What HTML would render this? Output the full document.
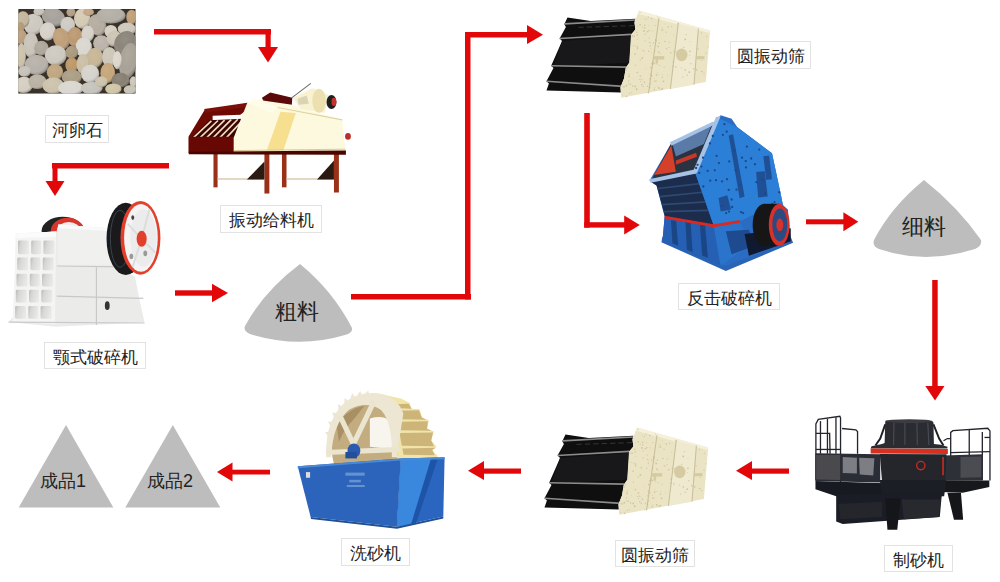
<!DOCTYPE html>
<html><head><meta charset="utf-8">
<style>
html,body{margin:0;padding:0;background:#fff;}
body{width:1000px;height:582px;position:relative;overflow:hidden;font-family:"Liberation Sans",sans-serif;}
.lb{position:absolute;box-sizing:border-box;border:1px solid #e2e2e2;color:#222;font-size:17.3px;line-height:25px;padding-top:2px;text-align:center;white-space:nowrap;}
.pt{position:absolute;color:#222;font-size:19px;line-height:20px;white-space:nowrap;}
svg{position:absolute;left:0;top:0;}
</style></head><body>
<svg width="1000" height="582" viewBox="0 0 1000 582">
<g fill="#e2080a">
<rect x="154" y="29" width="117" height="5.5"/><rect x="265.5" y="29" width="5.2" height="19"/><polygon points="258,47 278,47 268,62.5"/>
<rect x="52" y="163" width="117" height="5.5"/><rect x="52.5" y="163" width="5" height="20"/><polygon points="45.5,181 64.5,181 55,196"/>
<rect x="175" y="290.3" width="40" height="5.4"/><polygon points="212,283.7 212,302.2 228,293"/>
<rect x="351" y="294" width="120" height="5.5"/><rect x="465" y="32" width="5.5" height="267.5"/><rect x="465" y="32" width="64" height="5.5"/><polygon points="527,25 527,44 543,34.8"/>
<rect x="584.2" y="113" width="5.6" height="114.6"/><rect x="584.2" y="222.2" width="42" height="5.4"/><polygon points="624.2,215.6 624.2,234.4 639.8,225"/>
<rect x="806" y="219.3" width="39" height="5"/><polygon points="843.4,212.3 843.4,231.2 858.3,221.8"/>
<rect x="932.2" y="280" width="5.5" height="108"/><polygon points="925.3,386 944.5,386 935,400.5"/>
<rect x="750" y="468.5" width="39" height="5.2"/><polygon points="752,461 752,480 736,470.8"/>
<rect x="481" y="468.5" width="40" height="5.2"/><polygon points="484,461 484,480 468,470.8"/>
<rect x="231" y="469.7" width="39" height="4.8"/><polygon points="232.5,462.4 232.5,481.6 217,472"/>
</g>
<g fill="#bdbdbd">
<polygon points="66,425 18.7,507.5 113.3,507.5"/>
<polygon points="172.8,425 125.3,507.5 220.3,507.5"/>
<path d="M300,264 Q333,291 352,328 Q353,333 345,335 Q298,349 250,334 Q243,331 245,326 Q264,291 300,264Z"/>
<path d="M924,180 Q958,207 981,240 Q982,246 975,249 Q925,265 879,249 Q872,246 874,240 Q891,207 924,180Z"/>
</g>

<g transform="translate(15,5) scale(0.15985)"><defs><radialGradient id="pg" cx="0.4" cy="0.35" r="0.7"><stop offset="0" stop-color="#fff" stop-opacity="0.08"/><stop offset="0.6" stop-color="#fff" stop-opacity="0"/><stop offset="1" stop-color="#000" stop-opacity="0.38"/></radialGradient></defs><clipPath id="pc"><rect x="20" y="25" width="735" height="530"/></clipPath><g clip-path="url(#pc)"><rect x="20" y="25" width="735" height="530" fill="#3a3128"/>
<ellipse cx="115" cy="120" rx="63" ry="66" fill="#cdc8bf"/>
<ellipse cx="115" cy="120" rx="63" ry="66" fill="url(#pg)"/>
<ellipse cx="240" cy="75" rx="74" ry="57" fill="#a6a19b" transform="rotate(20 240 75)"/>
<ellipse cx="240" cy="75" rx="74" ry="57" fill="url(#pg)" transform="rotate(20 240 75)"/>
<ellipse cx="205" cy="165" rx="51" ry="57" fill="#d6d1c8"/>
<ellipse cx="205" cy="165" rx="51" ry="57" fill="url(#pg)"/>
<ellipse cx="330" cy="125" rx="46" ry="51" fill="#cecbc5"/>
<ellipse cx="330" cy="125" rx="46" ry="51" fill="url(#pg)"/>
<ellipse cx="420" cy="85" rx="51" ry="63" fill="#d5cab4"/>
<ellipse cx="420" cy="85" rx="51" ry="63" fill="url(#pg)"/>
<ellipse cx="515" cy="125" rx="55" ry="68" fill="#b5ac9f" transform="rotate(-20 515 125)"/>
<ellipse cx="515" cy="125" rx="55" ry="68" fill="url(#pg)" transform="rotate(-20 515 125)"/>
<ellipse cx="600" cy="65" rx="91" ry="51" fill="#b3afa6"/>
<ellipse cx="600" cy="65" rx="91" ry="51" fill="url(#pg)"/>
<ellipse cx="730" cy="75" rx="34" ry="46" fill="#c09f79"/>
<ellipse cx="730" cy="75" rx="34" ry="46" fill="url(#pg)"/>
<ellipse cx="700" cy="150" rx="57" ry="40" fill="#cdc7bc"/>
<ellipse cx="700" cy="150" rx="57" ry="40" fill="url(#pg)"/>
<ellipse cx="600" cy="165" rx="40" ry="40" fill="#d5cfc2"/>
<ellipse cx="600" cy="165" rx="40" ry="40" fill="url(#pg)"/>
<ellipse cx="50" cy="90" rx="40" ry="51" fill="#c3b69d"/>
<ellipse cx="50" cy="90" rx="40" ry="51" fill="url(#pg)"/>
<ellipse cx="35" cy="140" rx="23" ry="34" fill="#b19977"/>
<ellipse cx="35" cy="140" rx="23" ry="34" fill="url(#pg)"/>
<ellipse cx="40" cy="200" rx="34" ry="46" fill="#b99f7f"/>
<ellipse cx="40" cy="200" rx="34" ry="46" fill="url(#pg)"/>
<ellipse cx="100" cy="250" rx="46" ry="80" fill="#c9c4ba"/>
<ellipse cx="100" cy="250" rx="46" ry="80" fill="url(#pg)"/>
<ellipse cx="290" cy="210" rx="51" ry="68" fill="#bf9f79" transform="rotate(-20 290 210)"/>
<ellipse cx="290" cy="210" rx="51" ry="68" fill="url(#pg)" transform="rotate(-20 290 210)"/>
<ellipse cx="375" cy="200" rx="46" ry="63" fill="#bb9971"/>
<ellipse cx="375" cy="200" rx="46" ry="63" fill="url(#pg)"/>
<ellipse cx="455" cy="180" rx="40" ry="51" fill="#d6d1c9"/>
<ellipse cx="455" cy="180" rx="40" ry="51" fill="url(#pg)"/>
<ellipse cx="430" cy="265" rx="51" ry="63" fill="#dad7d1"/>
<ellipse cx="430" cy="265" rx="51" ry="63" fill="url(#pg)"/>
<ellipse cx="540" cy="240" rx="51" ry="51" fill="#bbb4aa"/>
<ellipse cx="540" cy="240" rx="51" ry="51" fill="url(#pg)"/>
<ellipse cx="620" cy="210" rx="46" ry="51" fill="#ccc4b3" transform="rotate(30 620 210)"/>
<ellipse cx="620" cy="210" rx="46" ry="51" fill="url(#pg)" transform="rotate(30 620 210)"/>
<ellipse cx="690" cy="240" rx="68" ry="80" fill="#8a847a" transform="rotate(30 690 240)"/>
<ellipse cx="690" cy="240" rx="68" ry="80" fill="url(#pg)" transform="rotate(30 690 240)"/>
<ellipse cx="165" cy="270" rx="46" ry="46" fill="#ada79a"/>
<ellipse cx="165" cy="270" rx="46" ry="46" fill="url(#pg)"/>
<ellipse cx="255" cy="315" rx="68" ry="63" fill="#cec9c0"/>
<ellipse cx="255" cy="315" rx="68" ry="63" fill="url(#pg)"/>
<ellipse cx="355" cy="295" rx="40" ry="40" fill="#aa997e"/>
<ellipse cx="355" cy="295" rx="40" ry="40" fill="url(#pg)"/>
<ellipse cx="500" cy="330" rx="51" ry="63" fill="#c7b696"/>
<ellipse cx="500" cy="330" rx="51" ry="63" fill="url(#pg)"/>
<ellipse cx="590" cy="325" rx="46" ry="63" fill="#cdc7b8"/>
<ellipse cx="590" cy="325" rx="46" ry="63" fill="url(#pg)"/>
<ellipse cx="710" cy="350" rx="57" ry="114" fill="#a8a196" transform="rotate(10 710 350)"/>
<ellipse cx="710" cy="350" rx="57" ry="114" fill="url(#pg)" transform="rotate(10 710 350)"/>
<ellipse cx="40" cy="320" rx="28" ry="80" fill="#ccc2ac"/>
<ellipse cx="40" cy="320" rx="28" ry="80" fill="url(#pg)"/>
<ellipse cx="135" cy="375" rx="74" ry="63" fill="#b6b1a9"/>
<ellipse cx="135" cy="375" rx="74" ry="63" fill="url(#pg)"/>
<ellipse cx="250" cy="420" rx="51" ry="51" fill="#c0a680"/>
<ellipse cx="250" cy="420" rx="51" ry="51" fill="url(#pg)"/>
<ellipse cx="355" cy="375" rx="40" ry="46" fill="#bd9768"/>
<ellipse cx="355" cy="375" rx="40" ry="46" fill="url(#pg)"/>
<ellipse cx="425" cy="370" rx="40" ry="63" fill="#cabea5"/>
<ellipse cx="425" cy="370" rx="40" ry="63" fill="url(#pg)"/>
<ellipse cx="355" cy="450" rx="63" ry="46" fill="#ab9e85"/>
<ellipse cx="355" cy="450" rx="63" ry="46" fill="url(#pg)"/>
<ellipse cx="470" cy="430" rx="57" ry="57" fill="#d6d3cd"/>
<ellipse cx="470" cy="430" rx="57" ry="57" fill="url(#pg)"/>
<ellipse cx="580" cy="425" rx="46" ry="63" fill="#c6a67a"/>
<ellipse cx="580" cy="425" rx="46" ry="63" fill="url(#pg)"/>
<ellipse cx="660" cy="470" rx="57" ry="46" fill="#877f72"/>
<ellipse cx="660" cy="470" rx="57" ry="46" fill="url(#pg)"/>
<ellipse cx="740" cy="480" rx="23" ry="34" fill="#cdc7ba"/>
<ellipse cx="740" cy="480" rx="23" ry="34" fill="url(#pg)"/>
<ellipse cx="60" cy="415" rx="40" ry="34" fill="#c6c1b9"/>
<ellipse cx="60" cy="415" rx="40" ry="34" fill="url(#pg)"/>
<ellipse cx="55" cy="500" rx="57" ry="51" fill="#d5cfc2"/>
<ellipse cx="55" cy="500" rx="57" ry="51" fill="url(#pg)"/>
<ellipse cx="140" cy="480" rx="57" ry="46" fill="#b9b1a3"/>
<ellipse cx="140" cy="480" rx="57" ry="46" fill="url(#pg)"/>
<ellipse cx="240" cy="505" rx="68" ry="51" fill="#ccc2ac"/>
<ellipse cx="240" cy="505" rx="68" ry="51" fill="url(#pg)"/>
<ellipse cx="350" cy="520" rx="80" ry="46" fill="#dad7d1"/>
<ellipse cx="350" cy="520" rx="80" ry="46" fill="url(#pg)"/>
<ellipse cx="480" cy="520" rx="68" ry="40" fill="#c6c3bd"/>
<ellipse cx="480" cy="520" rx="68" ry="40" fill="url(#pg)"/>
<ellipse cx="540" cy="480" rx="40" ry="34" fill="#ccc2ac"/>
<ellipse cx="540" cy="480" rx="40" ry="34" fill="url(#pg)"/>
<ellipse cx="615" cy="525" rx="51" ry="34" fill="#d0c6a6"/>
<ellipse cx="615" cy="525" rx="51" ry="34" fill="url(#pg)"/>
<ellipse cx="720" cy="530" rx="40" ry="28" fill="#c9c3b6"/>
<ellipse cx="720" cy="530" rx="40" ry="28" fill="url(#pg)"/>
<ellipse cx="150" cy="40" rx="34" ry="28" fill="#c8c3ba"/>
<ellipse cx="150" cy="40" rx="34" ry="28" fill="url(#pg)"/>
<ellipse cx="460" cy="45" rx="34" ry="23" fill="#c1a787"/>
<ellipse cx="460" cy="45" rx="34" ry="23" fill="url(#pg)"/>
<ellipse cx="350" cy="45" rx="28" ry="28" fill="#b29f85"/>
<ellipse cx="350" cy="45" rx="28" ry="28" fill="url(#pg)"/>
<ellipse cx="640" cy="345" rx="28" ry="57" fill="#dbd7cd"/>
<ellipse cx="640" cy="345" rx="28" ry="57" fill="url(#pg)"/>
</g></g>
<g transform="translate(185,78) scale(0.2063)">
<!-- legs -->
<g fill="#9a3018">
<rect x="138" y="362" width="20" height="168"/>
<rect x="385" y="362" width="24" height="198"/>
<rect x="470" y="362" width="22" height="168"/>
<rect x="722" y="362" width="24" height="193"/>
</g>
<g fill="#d8c8b0"><rect x="158" y="486" width="227" height="7"/><rect x="492" y="486" width="230" height="7"/></g>
<polygon points="300,492 385,405 385,492" fill="#2a1a12"/>
<polygon points="640,492 722,400 722,492" fill="#2a1a12"/>
<!-- maroon back top -->
<polygon points="373,96 413,70 520,96 517,140 380,112" fill="#5a0a08"/>
<!-- left hopper maroon -->
<polygon points="18,282 95,155 303,122 305,150 240,200 238,362 18,362" fill="#6e0a04"/>
<polygon points="93,150 303,120 303,140 100,168" fill="#7a1008"/>
<polygon points="134,183 274,178 250,205 134,205" fill="#ffffff"/>
<polygon points="28,290 118,205 280,198 240,290" fill="#3a0402"/>
<g stroke="#f0dcc0" stroke-width="8">
<line x1="40" y1="290" x2="128" y2="208"/>
<line x1="72" y1="290" x2="160" y2="206"/>
<line x1="104" y1="290" x2="192" y2="204"/>
<line x1="136" y1="290" x2="224" y2="202"/>
<line x1="168" y1="290" x2="256" y2="200"/>
<line x1="200" y1="290" x2="275" y2="210"/>
</g>
<polygon points="18,285 240,285 238,362 18,362" fill="#680804"/>
<!-- beige body -->
<polygon points="236,362 236,290 300,125 330,102 520,130 560,145 763,203 777,350 780,360" fill="#fdf9de"/>
<polygon points="463,163 537,170 477,350 397,350" fill="#f6df8e"/>
<polygon points="300,125 330,102 450,143 420,170 330,130" fill="#fffcea"/>
<line x1="450" y1="143" x2="763" y2="203" stroke="#e0d4a0" stroke-width="5"/>
<line x1="236" y1="352" x2="778" y2="345" stroke="#d0c088" stroke-width="4"/>
<!-- motor housing -->
<polygon points="523,96 617,50 697,83 677,170 560,150" fill="#f8f2d2"/>
<line x1="517" y1="96" x2="610" y2="26" stroke="#6a6a6a" stroke-width="5"/>
<polygon points="545,100 590,85 600,125 550,130" fill="#c8c0a0" opacity="0.6"/>
<ellipse cx="650" cy="110" rx="33" ry="58" fill="#ece0b0"/>
<ellipse cx="710" cy="116" rx="24" ry="34" fill="#1e1e1e"/>
<ellipse cx="722" cy="116" rx="12" ry="20" fill="#c8302a"/>
<ellipse cx="790" cy="283" rx="14" ry="16" fill="#b83028"/>
<!-- bottom beam -->
<polygon points="18,358 780,352 780,372 18,370" fill="#4a0400"/>
</g>

<g transform="translate(5,195) scale(0.2406)">
<!-- back flywheel -->
<ellipse cx="240" cy="150" rx="88" ry="60" fill="#222"/>
<ellipse cx="260" cy="150" rx="70" ry="55" fill="#d8362a"/>
<ellipse cx="265" cy="152" rx="50" ry="40" fill="#eee"/>
<!-- body -->
<polygon points="45,160 215,152 222,123 430,138 480,300 540,340 560,440 580,530 210,548 15,528 40,500" fill="#ebebea"/>
<polygon points="222,123 430,138 440,290 218,290" fill="#f0f0ef"/><polygon points="222,123 430,138 432,150 220,138" fill="#fafafa"/>
<!-- left grid face -->
<defs><linearGradient id="jc" x1="0" y1="0" x2="1" y2="0.3"><stop offset="0" stop-color="#b8bbb6"/><stop offset="0.35" stop-color="#d6d8d3"/><stop offset="1" stop-color="#e8e9e6"/></linearGradient></defs><polygon points="47,160 212,152 208,536 31,528" fill="#f4f4f3"/><polygon points="47,160 212,152 212,172 47,180" fill="#fbfbfb"/>
<rect x="54" y="189" width="45" height="57" rx="6" fill="url(#jc)"/>
<rect x="109" y="189" width="41" height="57" rx="6" fill="url(#jc)"/>
<rect x="160" y="189" width="45" height="57" rx="6" fill="url(#jc)"/>
<rect x="51" y="260" width="45" height="53" rx="6" fill="url(#jc)"/>
<rect x="106" y="260" width="41" height="53" rx="6" fill="url(#jc)"/>
<rect x="157" y="260" width="45" height="53" rx="6" fill="url(#jc)"/>
<rect x="48" y="327" width="45" height="53" rx="6" fill="url(#jc)"/>
<rect x="103" y="327" width="41" height="53" rx="6" fill="url(#jc)"/>
<rect x="154" y="327" width="45" height="53" rx="6" fill="url(#jc)"/>
<rect x="45" y="394" width="45" height="53" rx="6" fill="url(#jc)"/>
<rect x="100" y="394" width="41" height="53" rx="6" fill="url(#jc)"/>
<rect x="151" y="394" width="45" height="53" rx="6" fill="url(#jc)"/>
<rect x="42" y="461" width="45" height="53" rx="6" fill="url(#jc)"/>
<rect x="97" y="461" width="41" height="53" rx="6" fill="url(#jc)"/>
<rect x="148" y="461" width="45" height="53" rx="6" fill="url(#jc)"/>
<g stroke="#c8c8c8" stroke-width="5" fill="none">
<line x1="215" y1="295" x2="560" y2="300"/>
<line x1="215" y1="420" x2="575" y2="430"/>
<line x1="380" y1="300" x2="380" y2="540"/>
<line x1="15" y1="528" x2="580" y2="532"/>
</g>
<ellipse cx="425" cy="460" rx="10" ry="18" fill="#333"/>
<!-- front flywheel -->
<ellipse cx="502" cy="182" rx="80" ry="150" fill="#1a1a1c"/>
<ellipse cx="478" cy="182" rx="40" ry="118" fill="none" stroke="#3a4450" stroke-width="4"/>
<ellipse cx="563" cy="178" rx="83" ry="153" fill="#e2402c"/>
<ellipse cx="565" cy="178" rx="70" ry="141" fill="#f4f4f4"/>
<ellipse cx="575" cy="178" rx="55" ry="120" fill="#ececec"/>
<g stroke="#dcdcdc" stroke-width="8">
<line x1="568" y1="182" x2="600" y2="60"/><line x1="568" y1="182" x2="530" y2="300"/>
<line x1="568" y1="182" x2="625" y2="240"/><line x1="568" y1="182" x2="510" y2="120"/>
</g>
<ellipse cx="568" cy="182" rx="21" ry="33" fill="#e2402c"/>
<ellipse cx="531" cy="94" rx="6" ry="10" fill="#444"/>
<ellipse cx="525" cy="255" rx="8" ry="12" fill="#9a9a9a"/>
<ellipse cx="583" cy="243" rx="8" ry="12" fill="#9a9a9a"/>
</g>

<g transform="translate(540,5) scale(0.175)"><g>
<polygon points="157,72 290,92 545,78 540,100 545,140 520,170 510,330 490,360 480,420 460,470 462,500 37,488 51,449 37,436 77,360 64,347 126,205 112,191 148,126 139,110" fill="#0f0f10"/>
<polygon points="126,205 522,175 510,330 77,350" fill="#18181a"/>
<g stroke="#8c8c8c" stroke-width="9">
<line x1="139" y1="108" x2="543" y2="86"/>
<line x1="112" y1="191" x2="522" y2="168"/>
<line x1="64" y1="347" x2="497" y2="355"/>
<line x1="37" y1="436" x2="475" y2="465"/>
</g>
<g stroke="#3a3a3a" stroke-width="5" stroke-dasharray="30 18"><line x1="220" y1="128" x2="540" y2="118"/></g>
<polygon points="565,32 972,145 948,440 465,530 462,500 460,470 480,420 490,360 510,330 520,170 545,140 540,100" fill="#ebe4c4"/>
<polygon points="565,32 972,145 968,160 560,50" fill="#f5f0da"/>
<polygon points="790,105 905,135 880,455 745,480" fill="#efe9cf"/>
<g stroke="#c9bf98" stroke-width="6">
<line x1="680" y1="75" x2="620" y2="505"/>
<line x1="790" y1="105" x2="745" y2="480"/>
<line x1="905" y1="135" x2="880" y2="455"/>
</g>
<g fill="#c2b68e" opacity="0.7"><circle cx="583" cy="305" r="3.4"/><circle cx="594" cy="148" r="5.0"/><circle cx="789" cy="106" r="4.7"/><circle cx="729" cy="404" r="2.7"/><circle cx="476" cy="467" r="3.7"/><circle cx="663" cy="434" r="3.6"/><circle cx="685" cy="346" r="3.3"/><circle cx="761" cy="325" r="4.2"/><circle cx="544" cy="465" r="4.9"/><circle cx="926" cy="317" r="3.0"/><circle cx="493" cy="461" r="5.0"/><circle cx="506" cy="434" r="3.5"/><circle cx="538" cy="178" r="4.4"/><circle cx="830" cy="197" r="5.0"/><circle cx="619" cy="69" r="4.0"/><circle cx="670" cy="338" r="2.9"/><circle cx="482" cy="468" r="3.3"/><circle cx="655" cy="263" r="3.8"/><circle cx="721" cy="248" r="3.1"/><circle cx="674" cy="323" r="2.6"/><circle cx="783" cy="265" r="3.4"/><circle cx="491" cy="371" r="4.9"/><circle cx="589" cy="260" r="4.0"/><circle cx="625" cy="214" r="3.3"/><circle cx="650" cy="331" r="3.3"/><circle cx="654" cy="420" r="2.6"/><circle cx="575" cy="436" r="3.1"/><circle cx="557" cy="250" r="4.2"/><circle cx="632" cy="451" r="3.6"/><circle cx="633" cy="358" r="4.7"/><circle cx="692" cy="144" r="2.8"/><circle cx="733" cy="126" r="4.6"/><circle cx="555" cy="171" r="4.5"/><circle cx="527" cy="177" r="4.5"/><circle cx="600" cy="205" r="3.5"/><circle cx="676" cy="237" r="4.8"/><circle cx="574" cy="406" r="4.6"/><circle cx="636" cy="145" r="2.7"/><circle cx="763" cy="175" r="2.6"/><circle cx="925" cy="380" r="4.7"/><circle cx="590" cy="465" r="3.7"/><circle cx="600" cy="166" r="3.8"/><circle cx="678" cy="269" r="4.4"/><circle cx="495" cy="522" r="4.6"/><circle cx="623" cy="189" r="3.4"/><circle cx="558" cy="196" r="2.8"/><circle cx="652" cy="335" r="4.5"/><circle cx="656" cy="435" r="4.1"/><circle cx="682" cy="218" r="3.7"/><circle cx="822" cy="242" r="3.7"/><circle cx="586" cy="301" r="4.2"/><circle cx="679" cy="474" r="4.8"/><circle cx="653" cy="483" r="4.5"/><circle cx="595" cy="264" r="2.8"/><circle cx="879" cy="364" r="4.5"/><circle cx="513" cy="327" r="2.5"/><circle cx="534" cy="421" r="2.6"/><circle cx="472" cy="455" r="2.8"/><circle cx="895" cy="370" r="4.9"/><circle cx="855" cy="288" r="2.8"/><circle cx="553" cy="156" r="4.0"/><circle cx="664" cy="207" r="3.5"/><circle cx="961" cy="238" r="2.9"/><circle cx="816" cy="412" r="3.8"/><circle cx="709" cy="355" r="2.9"/><circle cx="509" cy="408" r="4.8"/><circle cx="726" cy="254" r="3.0"/><circle cx="598" cy="131" r="4.0"/><circle cx="622" cy="147" r="4.2"/><circle cx="951" cy="179" r="3.5"/><circle cx="572" cy="42" r="3.7"/><circle cx="657" cy="117" r="3.4"/><circle cx="626" cy="421" r="2.9"/><circle cx="768" cy="266" r="4.6"/><circle cx="747" cy="273" r="4.6"/><circle cx="666" cy="400" r="4.9"/><circle cx="830" cy="371" r="4.6"/><circle cx="585" cy="126" r="3.1"/><circle cx="556" cy="386" r="4.6"/><circle cx="923" cy="159" r="3.3"/><circle cx="678" cy="398" r="2.7"/><circle cx="508" cy="451" r="3.2"/><circle cx="644" cy="323" r="4.2"/><circle cx="685" cy="275" r="3.0"/><circle cx="661" cy="305" r="2.8"/><circle cx="602" cy="366" r="2.8"/><circle cx="510" cy="505" r="3.4"/><circle cx="808" cy="360" r="3.2"/><circle cx="714" cy="208" r="4.2"/><circle cx="752" cy="122" r="4.1"/><circle cx="552" cy="479" r="4.1"/><circle cx="523" cy="501" r="2.9"/><circle cx="631" cy="394" r="4.0"/><circle cx="621" cy="119" r="2.7"/><circle cx="657" cy="471" r="2.6"/><circle cx="720" cy="155" r="3.4"/><circle cx="631" cy="234" r="3.9"/><circle cx="857" cy="208" r="2.8"/><circle cx="599" cy="80" r="2.8"/><circle cx="557" cy="240" r="4.4"/><circle cx="535" cy="231" r="3.0"/><circle cx="589" cy="425" r="2.6"/><circle cx="760" cy="350" r="4.2"/><circle cx="614" cy="464" r="3.7"/><circle cx="645" cy="148" r="2.7"/><circle cx="626" cy="470" r="4.2"/><circle cx="529" cy="463" r="4.0"/><circle cx="937" cy="392" r="3.4"/><circle cx="904" cy="251" r="3.7"/><circle cx="543" cy="281" r="4.2"/><circle cx="737" cy="243" r="3.3"/><circle cx="699" cy="412" r="3.5"/><circle cx="553" cy="484" r="4.3"/><circle cx="649" cy="217" r="3.8"/><circle cx="568" cy="426" r="2.9"/><circle cx="697" cy="129" r="3.0"/><circle cx="548" cy="234" r="2.9"/><circle cx="547" cy="278" r="2.6"/><circle cx="670" cy="385" r="2.6"/><circle cx="668" cy="230" r="2.6"/><circle cx="545" cy="344" r="3.4"/><circle cx="835" cy="169" r="3.7"/><circle cx="597" cy="441" r="4.1"/><circle cx="638" cy="77" r="4.2"/><circle cx="706" cy="436" r="4.9"/><circle cx="661" cy="199" r="4.2"/><circle cx="841" cy="401" r="3.9"/><circle cx="578" cy="424" r="3.7"/><circle cx="599" cy="116" r="4.3"/><circle cx="711" cy="108" r="2.6"/><circle cx="700" cy="413" r="2.7"/><circle cx="582" cy="456" r="4.1"/><circle cx="692" cy="483" r="4.3"/><circle cx="632" cy="217" r="2.7"/><circle cx="514" cy="317" r="2.8"/><circle cx="502" cy="358" r="3.1"/><circle cx="573" cy="314" r="3.5"/><circle cx="862" cy="335" r="3.8"/><circle cx="557" cy="120" r="2.7"/><circle cx="472" cy="518" r="3.0"/><circle cx="700" cy="142" r="4.6"/><circle cx="777" cy="354" r="4.7"/><circle cx="638" cy="335" r="3.6"/><circle cx="517" cy="452" r="4.0"/><circle cx="699" cy="398" r="2.7"/><circle cx="638" cy="275" r="2.7"/><circle cx="633" cy="248" r="2.7"/><circle cx="572" cy="113" r="4.8"/><circle cx="949" cy="275" r="3.5"/><circle cx="610" cy="502" r="3.0"/><circle cx="509" cy="395" r="3.2"/><circle cx="638" cy="405" r="4.4"/><circle cx="608" cy="82" r="3.2"/><circle cx="672" cy="69" r="2.9"/><circle cx="853" cy="384" r="4.9"/><circle cx="621" cy="264" r="3.8"/><circle cx="739" cy="212" r="3.2"/><circle cx="699" cy="478" r="4.5"/><circle cx="613" cy="153" r="4.5"/><circle cx="857" cy="265" r="4.5"/></g>
<g fill="#d6cba0">
<rect x="650" y="292" width="60" height="20"/>
<rect x="660" y="300" width="14" height="35"/>
<ellipse cx="810" cy="285" rx="33" ry="36"/>
<rect x="890" y="292" width="50" height="18"/>
</g>
</g></g>
<g transform="translate(538,422) scale(0.175)"><g>
<polygon points="157,72 290,92 545,78 540,100 545,140 520,170 510,330 490,360 480,420 460,470 462,500 37,488 51,449 37,436 77,360 64,347 126,205 112,191 148,126 139,110" fill="#0f0f10"/>
<polygon points="126,205 522,175 510,330 77,350" fill="#18181a"/>
<g stroke="#8c8c8c" stroke-width="9">
<line x1="139" y1="108" x2="543" y2="86"/>
<line x1="112" y1="191" x2="522" y2="168"/>
<line x1="64" y1="347" x2="497" y2="355"/>
<line x1="37" y1="436" x2="475" y2="465"/>
</g>
<g stroke="#3a3a3a" stroke-width="5" stroke-dasharray="30 18"><line x1="220" y1="128" x2="540" y2="118"/></g>
<polygon points="565,32 972,145 948,440 465,530 462,500 460,470 480,420 490,360 510,330 520,170 545,140 540,100" fill="#ebe4c4"/>
<polygon points="565,32 972,145 968,160 560,50" fill="#f5f0da"/>
<polygon points="790,105 905,135 880,455 745,480" fill="#efe9cf"/>
<g stroke="#c9bf98" stroke-width="6">
<line x1="680" y1="75" x2="620" y2="505"/>
<line x1="790" y1="105" x2="745" y2="480"/>
<line x1="905" y1="135" x2="880" y2="455"/>
</g>
<g fill="#c2b68e" opacity="0.7"><circle cx="583" cy="305" r="3.4"/><circle cx="594" cy="148" r="5.0"/><circle cx="789" cy="106" r="4.7"/><circle cx="729" cy="404" r="2.7"/><circle cx="476" cy="467" r="3.7"/><circle cx="663" cy="434" r="3.6"/><circle cx="685" cy="346" r="3.3"/><circle cx="761" cy="325" r="4.2"/><circle cx="544" cy="465" r="4.9"/><circle cx="926" cy="317" r="3.0"/><circle cx="493" cy="461" r="5.0"/><circle cx="506" cy="434" r="3.5"/><circle cx="538" cy="178" r="4.4"/><circle cx="830" cy="197" r="5.0"/><circle cx="619" cy="69" r="4.0"/><circle cx="670" cy="338" r="2.9"/><circle cx="482" cy="468" r="3.3"/><circle cx="655" cy="263" r="3.8"/><circle cx="721" cy="248" r="3.1"/><circle cx="674" cy="323" r="2.6"/><circle cx="783" cy="265" r="3.4"/><circle cx="491" cy="371" r="4.9"/><circle cx="589" cy="260" r="4.0"/><circle cx="625" cy="214" r="3.3"/><circle cx="650" cy="331" r="3.3"/><circle cx="654" cy="420" r="2.6"/><circle cx="575" cy="436" r="3.1"/><circle cx="557" cy="250" r="4.2"/><circle cx="632" cy="451" r="3.6"/><circle cx="633" cy="358" r="4.7"/><circle cx="692" cy="144" r="2.8"/><circle cx="733" cy="126" r="4.6"/><circle cx="555" cy="171" r="4.5"/><circle cx="527" cy="177" r="4.5"/><circle cx="600" cy="205" r="3.5"/><circle cx="676" cy="237" r="4.8"/><circle cx="574" cy="406" r="4.6"/><circle cx="636" cy="145" r="2.7"/><circle cx="763" cy="175" r="2.6"/><circle cx="925" cy="380" r="4.7"/><circle cx="590" cy="465" r="3.7"/><circle cx="600" cy="166" r="3.8"/><circle cx="678" cy="269" r="4.4"/><circle cx="495" cy="522" r="4.6"/><circle cx="623" cy="189" r="3.4"/><circle cx="558" cy="196" r="2.8"/><circle cx="652" cy="335" r="4.5"/><circle cx="656" cy="435" r="4.1"/><circle cx="682" cy="218" r="3.7"/><circle cx="822" cy="242" r="3.7"/><circle cx="586" cy="301" r="4.2"/><circle cx="679" cy="474" r="4.8"/><circle cx="653" cy="483" r="4.5"/><circle cx="595" cy="264" r="2.8"/><circle cx="879" cy="364" r="4.5"/><circle cx="513" cy="327" r="2.5"/><circle cx="534" cy="421" r="2.6"/><circle cx="472" cy="455" r="2.8"/><circle cx="895" cy="370" r="4.9"/><circle cx="855" cy="288" r="2.8"/><circle cx="553" cy="156" r="4.0"/><circle cx="664" cy="207" r="3.5"/><circle cx="961" cy="238" r="2.9"/><circle cx="816" cy="412" r="3.8"/><circle cx="709" cy="355" r="2.9"/><circle cx="509" cy="408" r="4.8"/><circle cx="726" cy="254" r="3.0"/><circle cx="598" cy="131" r="4.0"/><circle cx="622" cy="147" r="4.2"/><circle cx="951" cy="179" r="3.5"/><circle cx="572" cy="42" r="3.7"/><circle cx="657" cy="117" r="3.4"/><circle cx="626" cy="421" r="2.9"/><circle cx="768" cy="266" r="4.6"/><circle cx="747" cy="273" r="4.6"/><circle cx="666" cy="400" r="4.9"/><circle cx="830" cy="371" r="4.6"/><circle cx="585" cy="126" r="3.1"/><circle cx="556" cy="386" r="4.6"/><circle cx="923" cy="159" r="3.3"/><circle cx="678" cy="398" r="2.7"/><circle cx="508" cy="451" r="3.2"/><circle cx="644" cy="323" r="4.2"/><circle cx="685" cy="275" r="3.0"/><circle cx="661" cy="305" r="2.8"/><circle cx="602" cy="366" r="2.8"/><circle cx="510" cy="505" r="3.4"/><circle cx="808" cy="360" r="3.2"/><circle cx="714" cy="208" r="4.2"/><circle cx="752" cy="122" r="4.1"/><circle cx="552" cy="479" r="4.1"/><circle cx="523" cy="501" r="2.9"/><circle cx="631" cy="394" r="4.0"/><circle cx="621" cy="119" r="2.7"/><circle cx="657" cy="471" r="2.6"/><circle cx="720" cy="155" r="3.4"/><circle cx="631" cy="234" r="3.9"/><circle cx="857" cy="208" r="2.8"/><circle cx="599" cy="80" r="2.8"/><circle cx="557" cy="240" r="4.4"/><circle cx="535" cy="231" r="3.0"/><circle cx="589" cy="425" r="2.6"/><circle cx="760" cy="350" r="4.2"/><circle cx="614" cy="464" r="3.7"/><circle cx="645" cy="148" r="2.7"/><circle cx="626" cy="470" r="4.2"/><circle cx="529" cy="463" r="4.0"/><circle cx="937" cy="392" r="3.4"/><circle cx="904" cy="251" r="3.7"/><circle cx="543" cy="281" r="4.2"/><circle cx="737" cy="243" r="3.3"/><circle cx="699" cy="412" r="3.5"/><circle cx="553" cy="484" r="4.3"/><circle cx="649" cy="217" r="3.8"/><circle cx="568" cy="426" r="2.9"/><circle cx="697" cy="129" r="3.0"/><circle cx="548" cy="234" r="2.9"/><circle cx="547" cy="278" r="2.6"/><circle cx="670" cy="385" r="2.6"/><circle cx="668" cy="230" r="2.6"/><circle cx="545" cy="344" r="3.4"/><circle cx="835" cy="169" r="3.7"/><circle cx="597" cy="441" r="4.1"/><circle cx="638" cy="77" r="4.2"/><circle cx="706" cy="436" r="4.9"/><circle cx="661" cy="199" r="4.2"/><circle cx="841" cy="401" r="3.9"/><circle cx="578" cy="424" r="3.7"/><circle cx="599" cy="116" r="4.3"/><circle cx="711" cy="108" r="2.6"/><circle cx="700" cy="413" r="2.7"/><circle cx="582" cy="456" r="4.1"/><circle cx="692" cy="483" r="4.3"/><circle cx="632" cy="217" r="2.7"/><circle cx="514" cy="317" r="2.8"/><circle cx="502" cy="358" r="3.1"/><circle cx="573" cy="314" r="3.5"/><circle cx="862" cy="335" r="3.8"/><circle cx="557" cy="120" r="2.7"/><circle cx="472" cy="518" r="3.0"/><circle cx="700" cy="142" r="4.6"/><circle cx="777" cy="354" r="4.7"/><circle cx="638" cy="335" r="3.6"/><circle cx="517" cy="452" r="4.0"/><circle cx="699" cy="398" r="2.7"/><circle cx="638" cy="275" r="2.7"/><circle cx="633" cy="248" r="2.7"/><circle cx="572" cy="113" r="4.8"/><circle cx="949" cy="275" r="3.5"/><circle cx="610" cy="502" r="3.0"/><circle cx="509" cy="395" r="3.2"/><circle cx="638" cy="405" r="4.4"/><circle cx="608" cy="82" r="3.2"/><circle cx="672" cy="69" r="2.9"/><circle cx="853" cy="384" r="4.9"/><circle cx="621" cy="264" r="3.8"/><circle cx="739" cy="212" r="3.2"/><circle cx="699" cy="478" r="4.5"/><circle cx="613" cy="153" r="4.5"/><circle cx="857" cy="265" r="4.5"/></g>
<g fill="#d6cba0">
<rect x="650" y="292" width="60" height="20"/>
<rect x="660" y="300" width="14" height="35"/>
<ellipse cx="810" cy="285" rx="33" ry="36"/>
<rect x="890" y="292" width="50" height="18"/>
</g>
</g></g>
<g transform="translate(645,110) scale(0.28864)">
<!-- base plate -->
<polygon points="57,458 280,558 513,460 505,440 280,530 60,440" fill="#2a64b4"/>
<!-- silhouette -->
<polygon points="16,244 91,115 236,45 262,18 300,30 320,60 440,150 470,290 478,330 495,345 505,455 280,540 60,458 68,370 40,262" fill="#2a6cc4"/>
<!-- lower left face (below hopper) darker -->
<polygon points="22,250 172,212 238,400 70,372 40,262" fill="#1c2c4c"/>
<g stroke="#2e4a72" stroke-width="6">
<line x1="45" y1="272" x2="190" y2="255"/>
<line x1="52" y1="300" x2="200" y2="285"/>
<line x1="60" y1="328" x2="212" y2="318"/>
<line x1="66" y1="352" x2="222" y2="348"/>
</g>
<!-- lower base legs region -->
<polygon points="68,372 238,400 262,540 60,458" fill="#2660b4"/>
<g fill="#1a4686">
<polygon points="90,382 108,384 115,470 95,462"/>
<polygon points="140,388 158,390 165,492 145,484"/>
<polygon points="190,394 208,396 218,512 198,504"/>
</g>
<polygon points="238,400 330,385 360,470 262,540" fill="#2a74cc"/>
<polygon points="280,420 360,415 380,470 300,500" fill="#1e4a90"/>
<!-- shadow under wheel -->
<polygon points="345,430 505,410 505,455 360,505" fill="#0f1a30"/>
<!-- front face -->
<polygon points="172,212 252,27 320,60 440,150 470,290 478,330 420,340 330,385 238,400" fill="#2b7fd6"/>
<!-- hopper -->
<polygon points="22,244 91,115 236,45 172,212" fill="#2a3342"/>
<polygon points="96,121 230,54 204,118 107,161" fill="#5a7aa8"/>
<polygon points="32,225 91,123 107,214" fill="#d4402a"/>
<polygon points="107,175 177,148 180,162 107,190" fill="#c8382a"/>
<g fill="#a6c2e6">
<polygon points="14,240 172,206 178,220 20,252"/>
<polygon points="166,214 246,24 262,22 180,218"/>
<polygon points="86,112 236,40 242,50 92,124"/>
</g>
<!-- bolts/ribs on face -->
<g fill="#1f4f95">
<polygon points="290,88 305,84 345,300 328,306"/>
<polygon points="385,215 415,212 425,300 392,303"/>
<polygon points="255,305 285,295 298,345 262,352"/>
<polygon points="410,160 430,158 440,240 420,242"/>
</g>
<g fill="#1a4a8c"><circle cx="270" cy="86" r="4"/><circle cx="336" cy="165" r="4"/><circle cx="188" cy="218" r="4"/><circle cx="182" cy="190" r="4"/><circle cx="302" cy="336" r="4"/><circle cx="349" cy="177" r="4"/><circle cx="266" cy="332" r="4"/><circle cx="226" cy="245" r="4"/><circle cx="368" cy="168" r="4"/><circle cx="381" cy="188" r="4"/><circle cx="267" cy="247" r="4"/><circle cx="310" cy="141" r="4"/><circle cx="416" cy="289" r="4"/><circle cx="246" cy="243" r="4"/><circle cx="333" cy="354" r="4"/><circle cx="396" cy="137" r="4"/><circle cx="300" cy="310" r="4"/><circle cx="217" cy="211" r="4"/><circle cx="407" cy="242" r="4"/><circle cx="386" cy="250" r="4"/><circle cx="350" cy="199" r="4"/><circle cx="317" cy="276" r="4"/><circle cx="290" cy="277" r="4"/><circle cx="177" cy="201" r="4"/><circle cx="291" cy="352" r="4"/><circle cx="195" cy="196" r="4"/><circle cx="340" cy="357" r="4"/><circle cx="256" cy="184" r="4"/><circle cx="281" cy="357" r="4"/><circle cx="225" cy="116" r="4"/><circle cx="242" cy="209" r="4"/><circle cx="353" cy="127" r="4"/><circle cx="284" cy="240" r="4"/><circle cx="465" cy="285" r="4"/><circle cx="330" cy="259" r="4"/><circle cx="449" cy="319" r="4"/><circle cx="441" cy="325" r="4"/><circle cx="292" cy="178" r="4"/><circle cx="202" cy="265" r="4"/><circle cx="235" cy="90" r="4"/><circle cx="275" cy="49" r="4"/><circle cx="201" cy="165" r="4"/><circle cx="248" cy="159" r="4"/><circle cx="283" cy="75" r="4"/><circle cx="314" cy="209" r="4"/></g>
<!-- red line -->
<polygon points="68,366 238,396 329,381 330,391 238,406 68,376" fill="#d82a22"/>
<!-- wheel -->
<ellipse cx="413" cy="398" rx="40" ry="73" fill="#161616"/>
<rect x="413" y="325" width="52" height="146" fill="#161616"/>
<ellipse cx="465" cy="398" rx="36" ry="73" fill="#d8302a"/>
<ellipse cx="467" cy="398" rx="26" ry="57" fill="#2c4a80"/>
<ellipse cx="467" cy="398" rx="12" ry="22" fill="#d8302a"/>
</g>

<g transform="translate(810,408) scale(0.21814)">
<!-- railings -->
<g stroke="#23252c" stroke-width="6" fill="none">
<polyline points="27,332 27,73 38,52 137,38 140,45 140,340"/>
<polyline points="48,210 48,60"/>
<polyline points="80,210 80,50"/>
<polyline points="119,210 119,42"/>
<polyline points="27,116 90,116 92,210"/>
<polyline points="27,190 140,190"/>
<polyline points="147,94 210,100 218,108 218,210"/>
<polyline points="645,330 645,112 655,104 815,93 825,105 825,332"/>
<polyline points="730,330 730,100"/>
<polyline points="790,110 790,330"/>
<polyline points="800,135 825,135"/>
<polyline points="645,205 825,200"/>
<polyline points="612,150 630,140 645,140"/>
</g>
<!-- left mesh platform -->
<polygon points="25,208 322,212 322,342 25,335" fill="#2a2c36"/>
<polygon points="28,215 138,215 138,330 28,328" fill="#4a4a4e"/>
<polygon points="150,225 215,228 215,300 150,298" fill="#7c7e84"/>
<polygon points="225,228 295,230 290,310 228,305" fill="#7c7e84"/>
<!-- right panel -->
<polygon points="612,218 792,212 792,332 612,334" fill="#2e3038"/>
<polygon points="690,225 785,222 785,318 690,320" fill="#4a4c52"/>
<!-- platform bases -->
<polygon points="25,335 345,345 345,405 120,405 25,372" fill="#181a22"/>
<polygon points="600,332 822,332 822,362 700,388 600,385" fill="#17181b"/>
<!-- central body top -->
<polygon points="345,62 348,57 560,60 566,66 568,165 600,168 630,178 630,186 278,186 282,175 330,165 342,160" fill="#2a2c31"/>
<ellipse cx="454" cy="60" rx="106" ry="9" fill="#3a3c42"/>
<g stroke="#4a4d55" stroke-width="5">
<line x1="385" y1="68" x2="383" y2="170"/>
<line x1="435" y1="68" x2="435" y2="170"/>
<line x1="490" y1="68" x2="492" y2="170"/>
<line x1="540" y1="68" x2="545" y2="170"/>
</g>
<g stroke="#1e2024" stroke-width="9" fill="none">
<polyline points="345,75 322,140 300,172"/>
<polyline points="566,75 592,140 612,172"/>
</g>
<!-- red band -->
<polygon points="278,186 632,188 632,211 278,209" fill="#d8301e"/>
<!-- lower body -->
<polygon points="320,211 626,212 620,335 330,335" fill="#24262b"/>
<circle cx="508" cy="264" r="19" fill="none" stroke="#d02a1e" stroke-width="6"/>
<line x1="610" y1="225" x2="610" y2="308" stroke="#c02a20" stroke-width="8"/>
<!-- bottom -->
<polygon points="320,330 625,330 615,405 330,415" fill="#1c1e26"/>
<polygon points="120,398 605,388 595,500 420,512 150,532 120,520" fill="#1a1d26"/>
<polygon points="420,420 600,420 590,500 430,510" fill="#28292e"/>
<polygon points="130,440 330,430 330,500 140,510" fill="#25262b"/>
<polygon points="345,415 415,415 400,558 355,558" fill="#151619"/>
<polygon points="630,388 692,388 702,512 660,512" fill="#151619"/>
</g>

<g transform="translate(290,385) scale(0.25765)">
<!-- buckets (right side) -->
<polygon points="300,40 364,38 430,52 464,69 472,92 504,94 512,126 539,137 532,170 559,180 548,215 569,240 552,252 572,275 574,292 400,292" fill="#f1e4a8"/>
<polygon points="404,75 460,73 472,92 494,92 407,90" fill="#cdb57a"/><polygon points="409,100 500,98 512,126 529,135 415,133" fill="#cdb57a"/><polygon points="417,143 535,141 532,170 549,178 423,176" fill="#cdb57a"/><polygon points="425,186 555,184 548,215 559,238 434,236" fill="#cdb57a"/><polygon points="436,246 565,244 552,252 562,273 441,271" fill="#cdb57a"/>
<!-- interior -->
<ellipse cx="290" cy="245" rx="128" ry="172" fill="#c3ad80"/>
<path d="M310,130 Q380,110 400,160 L410,250 L310,240 Z" fill="#f7f5ee"/>
<path d="M180,150 Q230,90 290,80 L250,130 Q210,170 190,220 Z" fill="#a89064"/>
<!-- front ring -->
<path d="M140,280 Q135,120 230,55 Q290,20 365,37 Q420,55 440,110 L420,240 L415,280 L395,280 Q400,150 353,96 Q300,60 230,95 Q165,150 160,280 Z" fill="#ece6d2"/>

<g fill="#ece6d2"><polygon points="149,201 153,181 136,182"/><polygon points="158,163 164,144 148,142"/><polygon points="171,128 180,110 164,106"/><polygon points="189,98 201,82 186,75"/><polygon points="210,73 225,60 212,50"/><polygon points="234,54 251,45 241,32"/><polygon points="260,42 279,37 272,23"/><polygon points="287,37 307,38 304,21"/><polygon points="315,39 334,45 335,29"/><polygon points="342,49 359,60 364,44"/></g>
<!-- spokes -->
<g stroke="#ebe5d0" stroke-width="20" stroke-linecap="butt">
<line x1="246" y1="229" x2="326" y2="64"/>
<line x1="246" y1="229" x2="193" y2="118"/>
<line x1="140" y1="262" x2="428" y2="250"/>
</g>
<!-- hub / motor -->
<ellipse cx="248" cy="255" rx="25" ry="28" fill="#2a5bb0"/>
<rect x="215" y="260" width="45" height="25" fill="#234f9a"/>
<!-- tank -->
<polygon points="430,285 600,280 595,510 415,550" fill="#2a66c0"/>
<polygon points="430,285 560,282 472,540 415,550" fill="#3a88de"/>
<polygon points="548,283 575,282 490,535 470,540" fill="#1e54a8"/>
<polygon points="30,315 430,285 415,550 80,512" fill="#2b64ba"/>
<polygon points="30,315 430,285 600,280 600,288 430,293 30,323" fill="#4a88d8"/>
<rect x="62" y="338" width="16" height="22" fill="#ddd"/>
<g fill="#8fb0e0" opacity="0.6"><rect x="215" y="340" width="75" height="12"/><rect x="230" y="368" width="45" height="10"/><rect x="220" y="388" width="70" height="8"/></g>
<polygon points="80,512 415,550 595,510 595,518 415,558 82,520" fill="#1f4f95"/>
</g>

</svg>
<div class="lb" style="left:45px;top:115px;width:64px;height:28px;">河卵石</div>
<div class="lb" style="left:220px;top:205px;width:102px;height:28px;">振动给料机</div>
<div class="lb" style="left:44px;top:342px;width:102px;height:27px;">颚式破碎机</div>
<div class="lb" style="left:730px;top:41px;width:81px;height:28px;">圆振动筛</div>
<div class="lb" style="left:678px;top:283px;width:102px;height:27px;">反击破碎机</div>
<div class="lb" style="left:884px;top:545px;width:69px;height:27px;">制砂机</div>
<div class="lb" style="left:615px;top:540px;width:80px;height:27px;">圆振动筛</div>
<div class="lb" style="left:341px;top:538px;width:69px;height:28px;">洗砂机</div>
<div class="pt" style="left:40px;top:471px;font-size:18px;">成品1</div>
<div class="pt" style="left:147px;top:471px;font-size:18px;">成品2</div>
<div class="pt" style="left:275px;top:300px;font-size:22px;line-height:24px;">粗料</div>
<div class="pt" style="left:902px;top:215px;font-size:22px;line-height:24px;">细料</div>

</body></html>
